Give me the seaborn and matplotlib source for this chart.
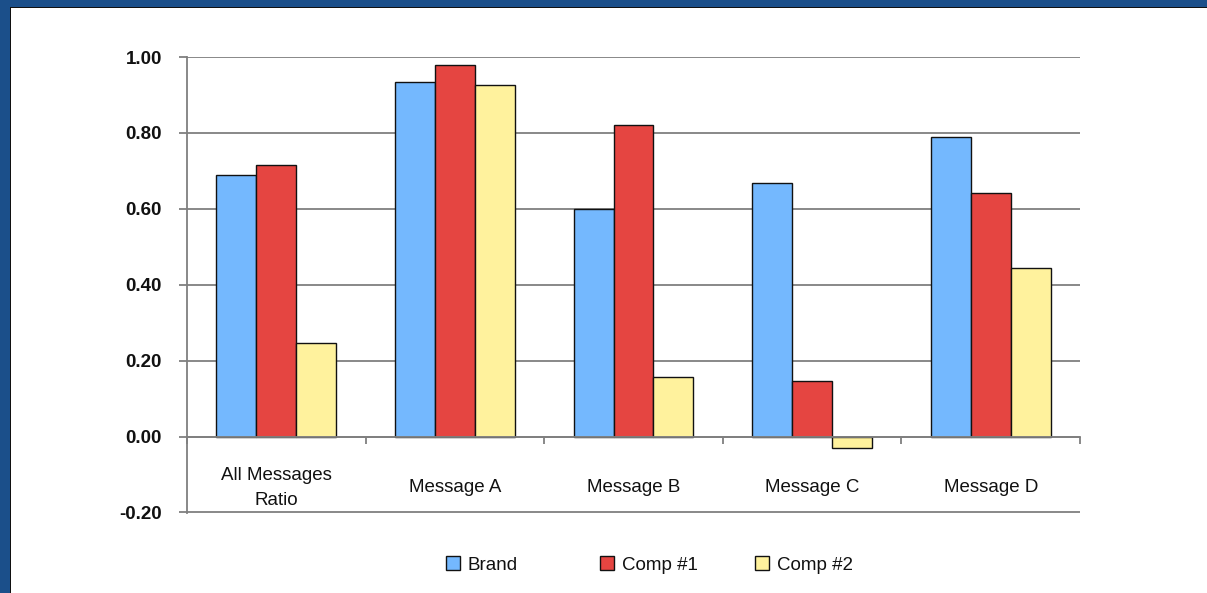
import matplotlib
matplotlib.use("Agg")
import matplotlib.pyplot as plt
from matplotlib.patches import Rectangle, Patch
import seaborn as sns
import pandas as pd

# Category names and per-series ratios
categories = ["All Messages\nRatio", "Message A", "Message B", "Message C", "Message D"]
series = ["Brand", "Comp #1", "Comp #2"]
brand = [0.69, 0.934, 0.60, 0.668, 0.789]
comp1 = [0.716, 0.979, 0.821, 0.145, 0.642]
comp2 = [0.247, 0.926, 0.158, -0.029, 0.445]
yticks = [-0.2, 0.0, 0.2, 0.4, 0.6, 0.8, 1.0]

colors = {"Brand": "#74B8FE", "Comp #1": "#E54541", "Comp #2": "#FFF29D"}

df = pd.DataFrame({
    "category": categories * 3,
    "series": ["Brand"] * 5 + ["Comp #1"] * 5 + ["Comp #2"] * 5,
    "value": brand + comp1 + comp2,
})

sns.set_theme(style="white")
plt.rcParams["font.family"] = ["Liberation Sans", "DejaVu Sans"]

FS = 13.5
fig = plt.figure(figsize=(12.07, 5.93), dpi=100)
fig.patch.set_facecolor("white")
ax = fig.add_axes([187 / 1207, 1 - 513 / 593, (1080 - 187) / 1207, (513 - 57) / 593])

sns.barplot(data=df, x="category", y="value", hue="series", order=categories,
            hue_order=series, palette=colors, width=0.67, edgecolor="#111111",
            linewidth=1.0, saturation=1, legend=False, ax=ax, zorder=3)

ax.set_xlim(-0.5, len(categories) - 0.5)
ax.set_ylim(-0.2015, 1.0)
ax.set_xlabel("")
ax.set_ylabel("")

grid_c = "#7f7f7f"
text_c = "#111111"
# horizontal gridlines
ax.set_yticks(yticks)
ax.set_yticklabels([f"{v:.2f}" for v in yticks])
ax.yaxis.grid(True, color=grid_c, linewidth=1.3, zorder=0)
ax.xaxis.grid(False)
ax.set_axisbelow(True)
ax.tick_params(axis="y", direction="out", length=6, width=1.3, color=grid_c, pad=12,
               left=True, labelsize=FS, labelcolor=text_c)
for lbl in ax.get_yticklabels():
    lbl.set_fontweight("bold")

# category boundaries as tick marks; names written in the band below the zero line
ax.set_xticks([i - 0.5 for i in range(len(categories) + 1)])
ax.set_xticklabels([""] * (len(categories) + 1))
ax.tick_params(axis="x", which="major", direction="out", length=5, width=1.3, color=grid_c, bottom=True)
for i, name in enumerate(categories):
    ax.text(i, -0.135, name, ha="center", va="center", fontsize=FS, color=text_c,
            linespacing=1.6, multialignment="center")

for s in ["top", "right"]:
    ax.spines[s].set_visible(False)
ax.spines["bottom"].set_position(("data", 0))
ax.spines["bottom"].set_color(grid_c)
ax.spines["bottom"].set_linewidth(1.3)
ax.spines["bottom"].set_zorder(4)
ax.spines["left"].set_color(grid_c)
ax.spines["left"].set_linewidth(1.3)

# legend entries spread across the bottom
legend_x = [446, 600, 755]
for s, lx in zip(series, legend_x):
    h = Patch(facecolor=colors[s], edgecolor=text_c, linewidth=1.0, label=s)
    leg = fig.legend(handles=[h], loc="center left", bbox_to_anchor=(lx / 1207, 1 - 565 / 593),
                     frameon=False, fontsize=FS, handlelength=0.75, handleheight=0.75,
                     handletextpad=0.4, borderpad=0, borderaxespad=0)
    for t in leg.get_texts():
        t.set_color(text_c)

# slide frame: blue band along top and left edges
fw, fh = 1207, 593
blue = "#1B4F8A"
fig.patches.append(Rectangle((0, 1 - 7 / fh), 1, 7 / fh, transform=fig.transFigure,
                             facecolor=blue, edgecolor="none", zorder=10))
fig.patches.append(Rectangle((0, 0), 10 / fw, 1, transform=fig.transFigure,
                             facecolor=blue, edgecolor="none", zorder=10))
fig.patches.append(Rectangle((10 / fw, 1 - 8 / fh), 1, 1.2 / fh, transform=fig.transFigure,
                             facecolor="#111111", edgecolor="none", zorder=10))
fig.patches.append(Rectangle((10 / fw, 0), 1.2 / fw, 1 - 7 / fh, transform=fig.transFigure,
                             facecolor="#111111", edgecolor="none", zorder=10))

fig.savefig("out.png", dpi=100)
